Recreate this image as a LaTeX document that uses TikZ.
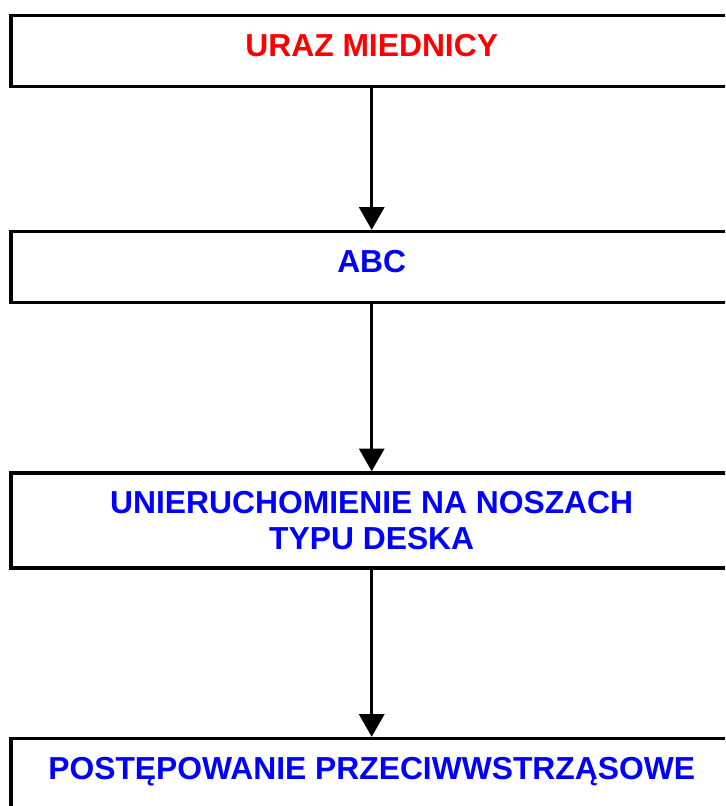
\documentclass[tikz,border=0pt]{standalone}
\usepackage{fontspec}
\setmainfont{Liberation Sans}
\usetikzlibrary{arrows.meta}
\begin{document}
\begin{tikzpicture}[x=0.75pt,y=-0.75pt,
    box/.style={draw,line width=2.5pt,minimum width=541pt,minimum height=53.25pt,align=center,
        font=\bfseries\fontsize{23.85pt}{27pt}\selectfont,text=blue},
    oneline/.style={text height=18pt,text depth=10pt},
    flow/.style={-{Triangle[length=17pt,width=18.75pt]},line width=2.2pt}]
    \useasboundingbox (0,0) rectangle (725,806);
    \clip (0,0) rectangle (725,806);

    \node [box,oneline,text=red] (uraz) at (371.7,51.2) {URAZ MIEDNICY};
    \node [box,oneline] (abc) at (371.7,267) {ABC};
    \node [box,minimum height=71.25pt] (deska) at (371.7,520.5) {UNIERUCHOMIENIE NA NOSZACH\\TYPU DESKA};
    \node [box,oneline] (wstrzas) at (371.7,774) {POSTĘPOWANIE PRZECIWWSTRZĄSOWE};

    \draw [flow] (uraz)--(abc);
    \draw [flow] (abc)--(deska);
    \draw [flow] (deska)--(wstrzas);
\end{tikzpicture}
\end{document}
